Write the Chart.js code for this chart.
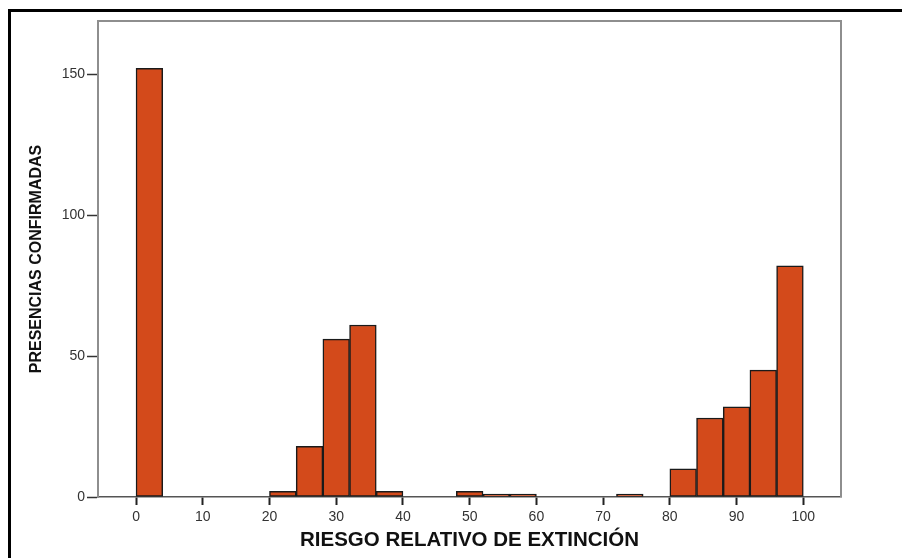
<!DOCTYPE html>
<html>
<head>
<meta charset="utf-8">
<script src="https://cdn.jsdelivr.net/npm/chart.js@4"></script>
<style>
  html, body { margin: 0; padding: 0; background: #ffffff; }
  #wrap { position: relative; width: 902px; height: 558px; }
  canvas { display: block; }
</style>
</head>
<body>
<div id="wrap"><canvas id="c" width="902" height="558"></canvas></div>
<script>
// Histogram bins (start of each 4-unit bin) and counts
const binStarts = [0, 4, 8, 12, 16, 20, 24, 28, 32, 36, 40, 44, 48, 52, 56, 60, 64, 68, 72, 76, 80, 84, 88, 92, 96];
const binWidth = 4;
const counts    = [152, 0, 0, 0, 0, 2, 18, 56, 61, 2, 0, 0, 2, 1, 1, 0, 0, 0, 1, 0, 10, 28, 32, 45, 82];
const xTicks = [0, 10, 20, 30, 40, 50, 60, 70, 80, 90, 100];
const yTicks = [0, 50, 100, 150];
const xTitle = 'RIESGO RELATIVO DE EXTINCIÓN';
const yTitle = 'PRESENCIAS CONFIRMADAS';

const points = binStarts.map((s, i) => ({ x: s + binWidth / 2, y: counts[i] }));

const framePlugin = {
  id: 'frame',
  beforeDraw(chart) {
    const ctx = chart.ctx;
    ctx.save();
    ctx.fillStyle = '#ffffff';
    ctx.fillRect(0, 0, chart.width, chart.height);
    // outer black border (left and top)
    ctx.fillStyle = '#000000';
    ctx.fillRect(8, 9, 3, chart.height - 9);
    ctx.fillRect(8, 9, chart.width - 8, 3);
    ctx.restore();
  },
  afterDatasetsDraw(chart) {
    const { ctx, chartArea: a } = chart;
    ctx.save();
    ctx.strokeStyle = '#8e8e8e';
    ctx.lineWidth = 2;
    ctx.beginPath();
    ctx.moveTo(a.left, a.top);
    ctx.lineTo(a.right, a.top);
    ctx.lineTo(a.right, a.bottom);
    ctx.stroke();
    ctx.restore();
  }
};

const hasValue = ctx => ctx.raw && ctx.raw.y > 0;

new Chart(document.getElementById('c'), {
  type: 'bar',
  data: {
    datasets: [{
      data: points,
      backgroundColor: ctx => (hasValue(ctx) ? '#d34a1b' : 'rgba(0,0,0,0)'),
      borderColor: '#1a1a1a',
      borderWidth: ctx => (hasValue(ctx) ? 1.5 : 0),
      borderSkipped: false,
      barPercentage: 1,
      categoryPercentage: 1
    }]
  },
  options: {
    responsive: false,
    animation: false,
    events: [],
    layout: { padding: { left: 0, top: 21, right: 61, bottom: 0 } },
    plugins: { legend: { display: false }, tooltip: { enabled: false } },
    scales: {
      x: {
        type: 'linear',
        min: -5.7,
        max: 105.65,
        offset: false,
        afterBuildTicks: s => { s.ticks = xTicks.map(v => ({ value: v })); },
        afterFit: s => { s.height = 61; },
        grid: { offset: false, drawOnChartArea: false, drawTicks: true, tickLength: 8, tickColor: '#222', tickWidth: 2 },
        border: { display: true, color: '#555555', width: 1.5 },
        ticks: { padding: 4, color: '#333', font: { family: 'Liberation Sans', size: 14 }, maxRotation: 0, autoSkip: false },
        title: { display: true, text: xTitle, color: '#111', padding: { top: 0, bottom: 5 },
                 font: { family: 'Liberation Sans', size: 20.5, weight: 'bold' } }
      },
      y: {
        min: 0,
        max: 168.8,
        afterBuildTicks: s => { s.ticks = yTicks.map(v => ({ value: v })); },
        afterFit: s => { s.width = 98; },
        grid: { drawOnChartArea: false, drawTicks: true, tickLength: 11, tickColor: '#333', tickWidth: 1.5 },
        border: { display: true, color: '#8e8e8e', width: 2 },
        ticks: { padding: 2, color: '#333', font: { family: 'Liberation Sans', size: 14 } },
        title: { display: true, text: yTitle, color: '#111', padding: { top: 27, bottom: 0 },
                 font: { family: 'Liberation Sans', size: 16, weight: 'bold' } }
      }
    }
  },
  plugins: [framePlugin]
});
</script>
</body>
</html>
